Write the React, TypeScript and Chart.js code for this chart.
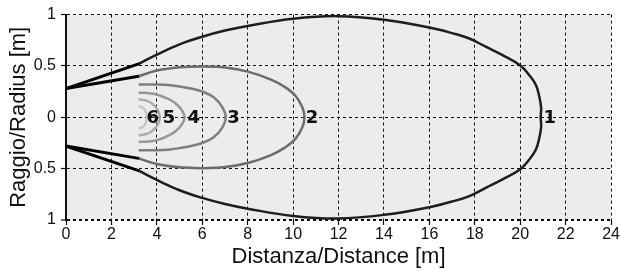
import React, { useEffect, useRef } from "react";
import { Chart, registerables } from "chart.js";

Chart.register(...registerables);

// X axis ticks (m) and Y axis ticks (m)
const xTicks = [0, 2, 4, 6, 8, 10, 12, 14, 16, 18, 20, 22, 24];
const yTicks = [-1, -0.5, 0, 0.5, 1];

// Cone (sensor head) segments, upper half: [x, r]
const coneOuter = [
  [0, 0.28],
  [3.2, 0.52],
];
const coneInner = [
  [0, 0.28],
  [3.2, 0.4],
];

// Detection lobes, upper half (x, radius) from start to tip
const lobe1 = [
  [3.2, 0.52], [4, 0.61], [5, 0.71], [6, 0.785], [7, 0.845], [8, 0.89],
  [10, 0.96], [12, 0.985], [14, 0.95], [16, 0.875], [17, 0.82], [17.76, 0.767],
  [18.5, 0.685], [19.22, 0.605], [20, 0.505], [20.4, 0.41], [20.69, 0.314],
  [20.84, 0.2], [20.92, 0.09], [20.9, 0],
];
const lobe2 = [
  [3.2, 0.4], [4, 0.455], [5, 0.487], [6, 0.495], [7, 0.485], [8, 0.445],
  [9, 0.37], [9.6, 0.3], [10.1, 0.21], [10.4, 0.1], [10.5, 0],
];
const lobe3 = [
  [3.2, 0.32], [4, 0.32], [4.5, 0.315], [5, 0.3], [5.5, 0.28], [6, 0.25],
  [6.5, 0.195], [6.88, 0.1], [7.03, 0],
];
const lobe4 = [
  [3.2, 0.24], [3.6, 0.236], [4, 0.222], [4.4, 0.19], [4.8, 0.14],
  [5.1, 0.07], [5.22, 0],
];
const lobe5 = [
  [3.2, 0.175], [3.5, 0.165], [3.75, 0.14], [3.95, 0.1], [4.08, 0.05], [4.13, 0],
];
const lobe6 = [
  [3.2, 0.11], [3.4, 0.09], [3.52, 0.05], [3.57, 0],
];

const lobes = [lobe1, lobe2, lobe3, lobe4, lobe5, lobe6];
const lobeColors = ["#1e1e1e", "#6c6c6c", "#7e7e7e", "#979797", "#ababab", "#c8c8c8"];

// Curve number labels placed on the axis (x in m)
const labelTexts = ["1", "2", "3", "4", "5", "6"];
const labelX = [21.3, 10.83, 7.38, 5.63, 4.53, 3.82];

const toPts = (arr: number[][]) => arr.map(([x, y]) => ({ x, y }));
// full closed lobe: upper half then mirrored lower half
const fullLobe = (arr: number[][]) => {
  const upper = arr.map(([x, y]) => ({ x, y }));
  const lower = arr
    .slice(0, -1)
    .reverse()
    .map(([x, y]) => ({ x, y: -y }));
  return upper.concat(lower);
};
const mirror = (arr: number[][]) => arr.map(([x, y]) => ({ x, y: -y }));

const bgPlugin = {
  id: "plotBg",
  beforeDraw(chart: any) {
    const { ctx, chartArea } = chart;
    ctx.save();
    ctx.fillStyle = "#ececec";
    ctx.fillRect(chartArea.left, chartArea.top, chartArea.right - chartArea.left, chartArea.bottom - chartArea.top);
    ctx.restore();
  },
};

const labelPlugin = {
  id: "curveLabels",
  afterDatasetsDraw(chart: any) {
    const { ctx, scales } = chart;
    ctx.save();
    ctx.font = "bold 18px 'DejaVu Sans'";
    ctx.fillStyle = "#111";
    ctx.textAlign = "center";
    ctx.textBaseline = "middle";
    labelTexts.forEach((t, i) => {
      ctx.fillText(t, scales.x.getPixelForValue(labelX[i]), scales.y.getPixelForValue(0) + 1);
    });
    ctx.restore();
  },
};

export default function App() {
  const ref = useRef<HTMLCanvasElement>(null);

  useEffect(() => {
    document.body.style.margin = "0";
    const canvas = ref.current!;
    const datasets: any[] = [];
    lobes.forEach((l, i) => {
      datasets.push({
        data: fullLobe(l),
        borderColor: lobeColors[i],
        borderWidth: 2.5,
        tension: 0.4,
        pointRadius: 0,
        fill: false,
      });
    });
    [toPts(coneOuter), toPts(coneInner), mirror(coneOuter), mirror(coneInner)].forEach((d) => {
      datasets.push({
        data: d,
        borderColor: "#000",
        borderWidth: 3,
        tension: 0,
        pointRadius: 0,
        fill: false,
        borderCapStyle: "round",
      });
    });

    const chart = new Chart(canvas, {
      type: "line",
      data: { datasets },
      plugins: [bgPlugin, labelPlugin],
      options: {
        responsive: false,
        animation: false,
        events: [],
        layout: { padding: { left: 0, right: 8, top: 14, bottom: 0 } },
        plugins: { legend: { display: false }, tooltip: { enabled: false } },
        scales: {
          x: {
            type: "linear",
            min: 0,
            max: 24,
            afterBuildTicks: (s: any) => {
              s.ticks = xTicks.map((v) => ({ value: v }));
            },
            afterFit: (s: any) => {
              s.height = 51;
            },
            ticks: {
              color: "#111",
              font: { family: "'Liberation Sans', Arial, sans-serif", size: 16 },
              padding: 0,
              maxRotation: 0,
              autoSkip: false,
            },
            grid: {
              color: "#111",
              lineWidth: 1,
              tickLength: 5,
              tickColor: "#111",
              tickWidth: 1.2,
              tickBorderDash: [],
            },
            border: { display: false, dash: [3, 3] },
            title: {
              display: true,
              text: "Distanza/Distance [m]",
              color: "#111",
              font: { family: "'Liberation Sans', Arial, sans-serif", size: 22 },
              padding: { top: 0, bottom: 1 },
            },
          },
          y: {
            type: "linear",
            min: -1,
            max: 1,
            afterBuildTicks: (s: any) => {
              s.ticks = yTicks.map((v) => ({ value: v }));
            },
            afterFit: (s: any) => {
              s.width = 66;
            },
            ticks: {
              color: "#111",
              font: { family: "'Liberation Sans', Arial, sans-serif", size: 16 },
              padding: 5,
              callback: (v: any) => String(Math.abs(Number(v))),
            },
            grid: {
              color: "#111",
              lineWidth: (c: any) => (c.tick && c.tick.value === -1 ? 2 : 1),
              tickLength: 5,
              tickColor: "#111",
              tickWidth: 1.2,
              tickBorderDash: [],
            },
            border: { display: true, color: "#111", width: 2, dash: [3, 3] },
            title: {
              display: true,
              text: "Raggio/Radius [m]",
              color: "#111",
              font: { family: "'Liberation Sans', Arial, sans-serif", size: 22 },
              padding: { top: 6, bottom: 0 },
            },
          },
        },
      } as any,
    });
    return () => chart.destroy();
  }, []);

  return (
    <div style={{ width: 620, height: 271 }}>
      <canvas ref={ref} width={620} height={271} />
    </div>
  );
}
